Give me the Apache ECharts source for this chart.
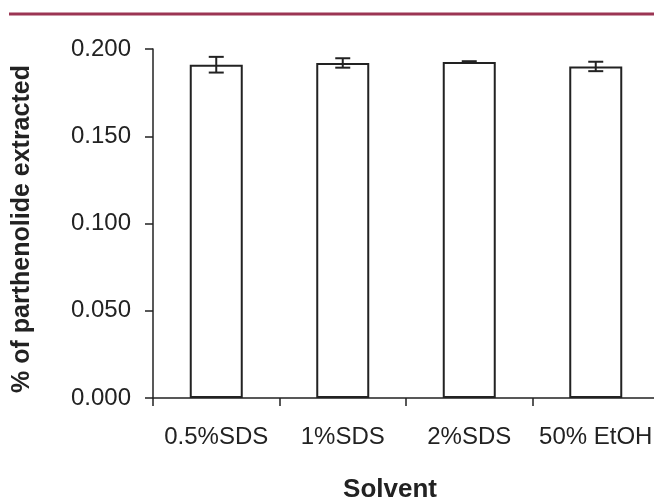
<!DOCTYPE html>
<html>
<head>
<meta charset="utf-8">
<script src="https://cdn.jsdelivr.net/npm/echarts@6/dist/echarts.min.js"></script>
<style>
  html, body { margin: 0; padding: 0; background: #fff; }
  #chart { width: 654px; height: 499px; }
</style>
</head>
<body>
<div id="chart"></div>
<script>
// 溶剂类别与提取率
const solvents = ['0.5%SDS', '1%SDS', '2%SDS', '50% EtOH'];
const extracted = [0.191, 0.192, 0.1925, 0.190];
const errors = [0.0045, 0.0027, 0.0005, 0.0027];

const FONT = '"Liberation Sans", Arial, sans-serif';

const chart = echarts.init(document.getElementById('chart'));

// 误差线
function renderError(params, api) {
  const i = api.value(0);
  const lo = api.coord([i, api.value(1)]);
  const hi = api.coord([i, api.value(2)]);
  const half = 7.5;
  const style = { stroke: '#222', lineWidth: 2 };
  return {
    type: 'group',
    children: [
      { type: 'line', shape: { x1: lo[0], y1: lo[1], x2: hi[0], y2: hi[1] }, style: style },
      { type: 'line', shape: { x1: lo[0] - half, y1: lo[1], x2: lo[0] + half, y2: lo[1] }, style: style },
      { type: 'line', shape: { x1: hi[0] - half, y1: hi[1], x2: hi[0] + half, y2: hi[1] }, style: style }
    ]
  };
}

chart.setOption({
  animation: false,
  backgroundColor: '#fff',
  grid: { left: 153, right: -5, top: 49, bottom: 101, outerBoundsMode: 'none' },
  graphic: [
    {
      type: 'line',
      shape: { x1: 9, y1: 14, x2: 654, y2: 14 },
      style: { stroke: '#9b3553', lineWidth: 3 }
    },
    {
      type: 'text',
      x: 390, y: 490,
      style: {
        text: 'Solvent', font: 'bold 26px ' + FONT, fill: '#222',
        align: 'center', verticalAlign: 'middle'
      }
    },
    {
      type: 'text',
      x: 22, y: 229,
      rotation: Math.PI / 2,
      style: {
        text: '% of parthenolide extracted', font: 'bold 25px ' + FONT, fill: '#222',
        align: 'center', verticalAlign: 'middle'
      }
    }
  ],
  xAxis: {
    type: 'category',
    data: solvents,
    axisLine: { lineStyle: { color: '#222', width: 1.5 } },
    axisTick: { show: true, interval: 0, length: 8, lineStyle: { color: '#222', width: 1.5 } },
    axisLabel: {
      color: '#222', fontSize: 24, fontFamily: FONT, margin: 27,
      interval: 0, hideOverlap: false
    }
  },
  yAxis: {
    type: 'value',
    min: 0,
    max: 0.2,
    interval: 0.05,
    axisLine: { show: true, lineStyle: { color: '#222', width: 1.5 } },
    axisTick: { show: true, length: 8, lineStyle: { color: '#222', width: 1.5 } },
    splitLine: { show: false },
    axisLabel: {
      color: '#222', fontSize: 24, fontFamily: FONT, margin: 22,
      formatter: function (v) { return v.toFixed(3); }
    }
  },
  series: [
    {
      type: 'bar',
      data: extracted,
      barWidth: 53,
      itemStyle: { color: '#fff', borderColor: '#222', borderWidth: 2 }
    },
    {
      type: 'custom',
      renderItem: renderError,
      data: extracted.map(function (v, i) { return [i, v - errors[i], v + errors[i]]; }),
      z: 10
    }
  ]
});
</script>
</body>
</html>
